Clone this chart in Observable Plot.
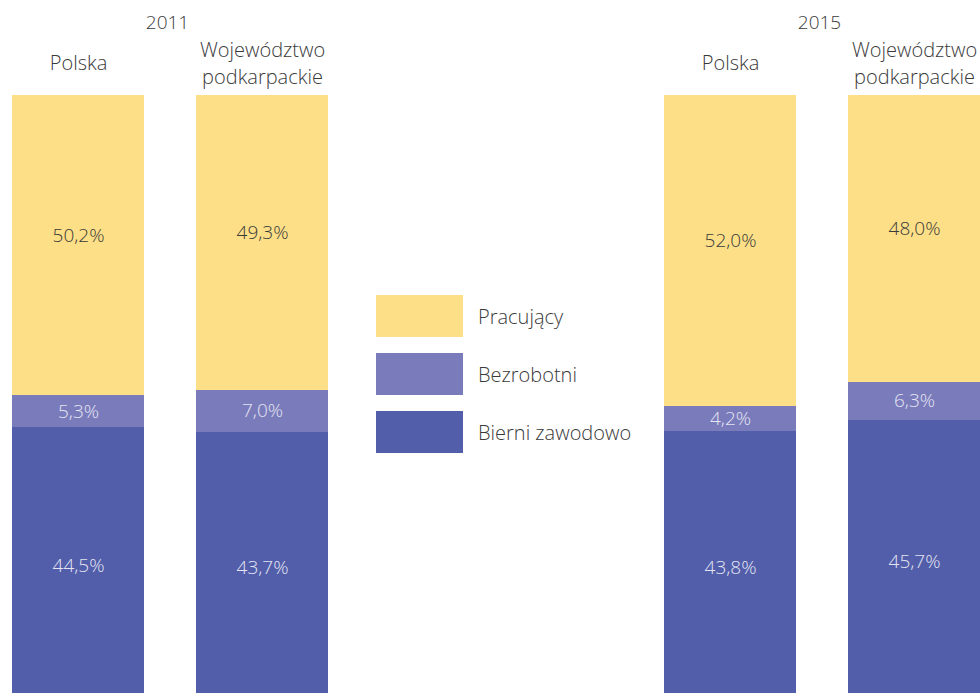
<!DOCTYPE html>
<html>
<head>
<meta charset="utf-8">
<script src="https://cdn.jsdelivr.net/npm/d3@7"></script>
<script src="https://cdn.jsdelivr.net/npm/@observablehq/plot@0.6"></script>
<style>
  body { margin: 0; background: #fff; font-family: "Open Sans", "Noto Sans", sans-serif; }
  #wrap { position: relative; width: 980px; height: 693px; overflow: hidden; }
  .legend { position: absolute; left: 376px; top: 295px; }
  .item { display: flex; align-items: center; height: 42px; margin-bottom: 16px; }
  .swatch { width: 87px; height: 42px; margin-right: 15px; }
  .label { font-size: 20px; font-weight: 300; color: #3a3a3a; }
</style>
</head>
<body>
<div id="wrap"></div>
<script>
const years = ["2011", "2015"];
const regions = ["Polska", "Województwo podkarpackie"];
const series = ["Pracujący", "Bezrobotni", "Bierni zawodowo"];
const colors = ["#FDDF87", "#7A7BBB", "#525EAA"];
// order: 2011 Polska, 2011 Województwo, 2015 Polska, 2015 Województwo
const pracujacy = [50.2, 49.3, 52.0, 48.0];
const bezrobotni = [5.3, 7.0, 4.2, 6.3];
const bierni = [44.5, 43.7, 43.8, 45.7];

const valuesBySeries = {"Pracujący": pracujacy, "Bezrobotni": bezrobotni, "Bierni zawodowo": bierni};
const stackOrder = ["Bierni zawodowo", "Bezrobotni", "Pracujący"];

const rows = [];
years.forEach((year, i) => {
  regions.forEach((region, j) => {
    stackOrder.forEach(s => {
      rows.push({year, region, series: s, value: valuesBySeries[s][i * 2 + j]});
    });
  });
});
const headers = [];
years.forEach(year => regions.forEach(region => headers.push({year, region})));

const fmt = v => v.toFixed(1).replace(".", ",") + "%";
const textOpts = (name) => Plot.filter(d => d.series === name,
  Plot.stackY({fx: "year", x: "region", y: "value", z: "series", text: d => fmt(d.value)}));

const chart = Plot.plot({
  width: 980,
  height: 693,
  marginTop: 95,
  marginBottom: 0,
  marginLeft: 11,
  marginRight: 0,
  fx: {domain: years, axis: null, paddingInner: 0.516, paddingOuter: 0},
  x: {domain: regions, axis: null, paddingInner: 0.283, paddingOuter: 0},
  y: {domain: [0, 100], axis: null},
  color: {domain: series, range: colors},
  style: {fontFamily: "'Open Sans', 'Noto Sans', sans-serif", fontSize: "19px", fontWeight: 300, color: "#3a3a3a", background: "#fff"},
  marks: [
    Plot.barY(rows, {fx: "year", x: "region", y: "value", fill: "series", z: "series", shapeRendering: "crispEdges"}),
    Plot.text(rows, {...textOpts("Pracujący"), fill: "#3a3a3a", fontSize: 19, dy: -10}),
    Plot.text(rows, {...textOpts("Bezrobotni"), fill: "#E4E4F2", fontSize: 19}),
    Plot.text(rows, {...textOpts("Bierni zawodowo"), fill: "#E4E4F2", fontSize: 19, dy: 5}),
    Plot.text(years, {fx: d => d, text: d => d, frameAnchor: "top", dy: -73, dx: -3, lineAnchor: "middle", fill: "#3a3a3a", fontSize: 19}),
    Plot.text(headers, {fx: "year", x: "region", text: d => d.region.replace(" ", "\n"), frameAnchor: "top", dy: -34, lineAnchor: "middle", lineHeight: 1.35, fill: "#3a3a3a", fontSize: 20})
  ]
});

const wrap = document.getElementById("wrap");
wrap.appendChild(chart);

const legend = document.createElement("div");
legend.className = "legend";
series.forEach((s, i) => {
  const item = document.createElement("div");
  item.className = "item";
  const sw = document.createElement("div");
  sw.className = "swatch";
  sw.style.background = colors[i];
  const lab = document.createElement("span");
  lab.className = "label";
  lab.textContent = s;
  item.appendChild(sw);
  item.appendChild(lab);
  legend.appendChild(item);
});
wrap.appendChild(legend);
</script>
</body>
</html>
